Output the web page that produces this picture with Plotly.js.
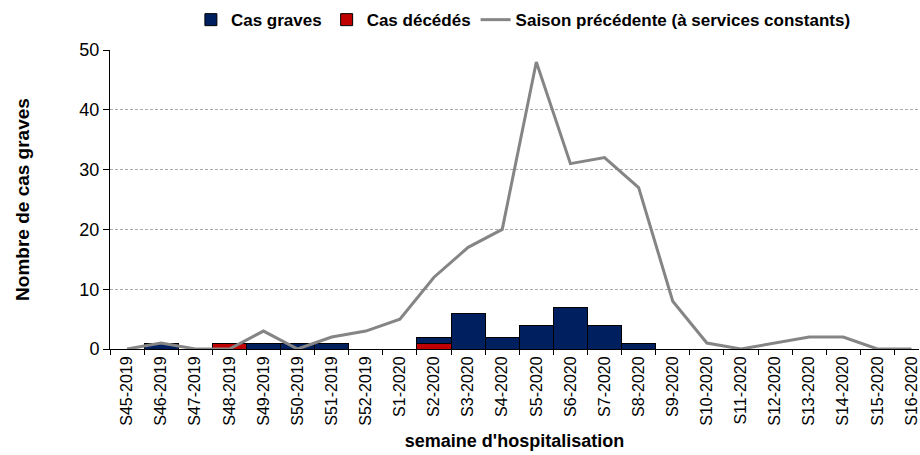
<!DOCTYPE html>
<html>
<head>
<meta charset="utf-8">
<script src="https://cdn.plot.ly/plotly-3.0.1.min.js"></script>
<style>html,body{margin:0;padding:0;background:#fff;}#chart{width:920px;height:455px;}</style>
</head>
<body>
<div id="chart"></div>
<script>
const weeks = ["S45-2019","S46-2019","S47-2019","S48-2019","S49-2019","S50-2019","S51-2019","S52-2019",
  "S1-2020","S2-2020","S3-2020","S4-2020","S5-2020","S6-2020","S7-2020","S8-2020","S9-2020",
  "S10-2020","S11-2020","S12-2020","S13-2020","S14-2020","S15-2020","S16-2020"];
const casGraves   = [0,1,0,0,1,1,1,0, 0,1,6,2,4,7,4,1,0, 0,0,0,0,0,0,0];
const casDecedes  = [0,0,0,1,0,0,0,0, 0,1,0,0,0,0,0,0,0, 0,0,0,0,0,0,0];
const saisonPrec  = [0,1,0,0,3,0,2,3, 5,12,17,20,48,31,32,27,8, 1,0,1,2,2,0,0];

const font = "Liberation Sans, Arial, sans-serif";
const data = [
  {type:"bar", x:weeks, y:casDecedes, name:"Cas décédés", legendrank:2,
   marker:{color:"#C00000", line:{color:"#000", width:1}}},
  {type:"bar", x:weeks, y:casGraves, name:"Cas graves", legendrank:1,
   marker:{color:"#001F5F", line:{color:"#000", width:1}}},
  {type:"scatter", mode:"lines", x:weeks, y:saisonPrec, name:"Saison précédente (à services constants)", legendrank:3,
   line:{color:"#858585", width:3}}
];
const layout = {
  width:920, height:455,
  margin:{l:110, r:1, t:50, b:106},
  paper_bgcolor:"#fff", plot_bgcolor:"#fff",
  barmode:"stack", bargap:0,
  font:{family:font, color:"#000"},
  showlegend:true,
  legend:{orientation:"h", traceorder:"normal", x:0.1, xanchor:"left", y:1.10, yanchor:"middle",
    font:{family:font, size:17, weight:"bold"}, itemwidth:30, tracegroupgap:0},
  xaxis:{type:"category", range:[-0.5, 23.22], showline:true, linecolor:"#000", linewidth:1,
    ticks:"outside", ticklen:5, tickcolor:"#000", tickson:"boundaries", tickangle:-90,
    tickfont:{family:font, size:16}, showgrid:false,
    title:{text:"semaine d'hospitalisation", font:{family:font, size:18, weight:"bold"}, standoff:9}},
  yaxis:{range:[0,50], dtick:10, showline:true, linecolor:"#000", linewidth:1,
    ticks:"outside", ticklen:6, tickcolor:"#000", tickfont:{family:font, size:18},
    showgrid:true, gridcolor:"#aaa", griddash:"3px,2px", gridwidth:1, zeroline:false,
    title:{text:"Nombre de cas graves", font:{family:font, size:19, weight:"bold"}, standoff:44}}
};
Plotly.newPlot("chart", data, layout, {displayModeBar:false, staticPlot:true});
</script>
</body>
</html>
